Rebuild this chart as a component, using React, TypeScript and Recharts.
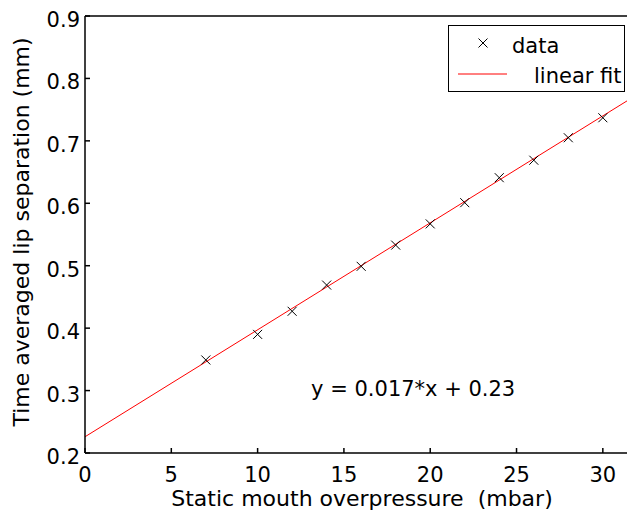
import React from "react";
import {
  ComposedChart,
  XAxis,
  YAxis,
  Scatter,
  Line,
  ReferenceDot,
} from "recharts";

// measured lip separation vs mouth overpressure
const pressure = [7, 10, 12, 14, 16, 18, 20, 22, 24, 26, 28, 30];
const separation = [0.349, 0.39, 0.427, 0.469, 0.499, 0.533, 0.567, 0.601, 0.641, 0.669, 0.705, 0.737];

// end points of the fitted line
const fitX = [0, 31.4];
const fitY = [0.226, 0.764];

const xTicks = [0, 5, 10, 15, 20, 25, 30];
const yTicks = [0.2, 0.3, 0.4, 0.5, 0.6, 0.7, 0.8, 0.9];
const seriesNames = ["data", "linear fit"];
const fitLabel = "y = 0.017*x + 0.23";

const FONT = "'DejaVu Sans', 'Liberation Sans', Arial, sans-serif";
const AXIS = { stroke: "#000", strokeWidth: 1.5 };

const points = pressure.map((x, i) => ({ x, y: separation[i] }));
const fitData = fitX.map((x, i) => ({ x, y: fitY[i] }));

const Cross = (props: any) => {
  const { cx, cy } = props;
  const s = 4.5;
  return (
    <path
      d={`M${cx - s},${cy - s}L${cx + s},${cy + s}M${cx + s},${cy - s}L${cx - s},${cy + s}`}
      stroke="#000"
      strokeWidth={1}
      fill="none"
    />
  );
};

const XTick = ({ x, y, payload }: any) => (
  <text x={x} y={y + 15} textAnchor="middle" fontFamily={FONT} fontSize={21} fill="#000">
    {payload.value}
  </text>
);

const YTick = ({ x, y, payload }: any) => (
  <text x={x} y={y + 11} textAnchor="end" fontFamily={FONT} fontSize={21} fill="#000">
    {Number(payload.value).toFixed(1)}
  </text>
);

const LegendBox = () => (
  <div
    style={{
      position: "absolute",
      left: 448,
      top: 25,
      width: 177,
      height: 67,
      border: "1.5px solid #000",
      boxSizing: "border-box",
      background: "#fff",
    }}
  >
    <svg width={174} height={64} style={{ display: "block" }}>
      <path d="M29.5,12.5L38.5,21.5M38.5,12.5L29.5,21.5" stroke="#000" strokeWidth={1} />
      <text x={63} y={27} fontFamily={FONT} fontSize={21} fill="#000">
        {seriesNames[0]}
      </text>
      <line x1={9} x2={58} y1={48} y2={48} stroke="#ff0000" strokeWidth={1} />
      <text x={85} y={57} fontFamily={FONT} fontSize={21} fill="#000">
        {seriesNames[1]}
      </text>
    </svg>
  </div>
);

export default function App() {
  return (
    <div style={{ position: "absolute", left: 0, top: 0, width: 627, height: 517, background: "#fff" }}>
      <ComposedChart width={627} height={517} margin={{ top: 15, right: 0, bottom: 0, left: 0 }}>
        <XAxis
          xAxisId="bottom"
          dataKey="x"
          type="number"
          domain={[fitX[0], fitX[1]]}
          allowDataOverflow
          ticks={xTicks}
          interval={0}
          height={64}
          tickSize={-5}
          tickMargin={19}
          tick={<XTick />}
          axisLine={AXIS}
          tickLine={AXIS}
          label={{
            content: ({ viewBox }: any) => (
              <text
                x={viewBox.x + viewBox.width / 2 + 6}
                y={viewBox.y + 53}
                textAnchor="middle"
                fontFamily={FONT}
                fontSize={22}
                fill="#000"
                style={{ whiteSpace: "pre" }}
              >
                {"Static mouth overpressure \u00a0(mbar)"}
              </text>
            ),
          }}
        />
        <XAxis
          xAxisId="top"
          orientation="top"
          dataKey="x"
          type="number"
          domain={[fitX[0], fitX[1]]}
          allowDataOverflow
          ticks={xTicks}
          interval={0}
          height={1}
          tickSize={-5}
          tick={false}
          axisLine={AXIS}
          tickLine={AXIS}
        />
        <YAxis
          yAxisId="left"
          type="number"
          domain={[0.2, 0.9]}
          allowDataOverflow
          ticks={yTicks}
          interval={0}
          width={85}
          tickSize={-5}
          tickMargin={10}
          tick={<YTick />}
          axisLine={AXIS}
          tickLine={AXIS}
          label={{
            content: () => (
              <text
                x={29}
                y={232}
                transform="rotate(-90, 29, 232)"
                textAnchor="middle"
                fontFamily={FONT}
                fontSize={22}
                fill="#000"
              >
                Time averaged lip separation (mm)
              </text>
            ),
          }}
        />
        <Line
          xAxisId="bottom"
          yAxisId="left"
          data={fitData}
          dataKey="y"
          name={seriesNames[1]}
          stroke="#ff0000"
          strokeWidth={1}
          dot={false}
          activeDot={false}
          isAnimationActive={false}
        />
        <Scatter
          xAxisId="bottom"
          yAxisId="left"
          data={points}
          dataKey="y"
          name={seriesNames[0]}
          shape={<Cross />}
          isAnimationActive={false}
        />
        <ReferenceDot
          xAxisId="bottom"
          yAxisId="left"
          x={13.1}
          y={0.291}
          r={0}
          fill="none"
          stroke="none"
          label={{
            content: ({ viewBox }: any) => (
              <text x={viewBox.x} y={viewBox.y} fontFamily={FONT} fontSize={21} fill="#000">
                {fitLabel}
              </text>
            ),
          }}
        />
      </ComposedChart>
      <LegendBox />
    </div>
  );
}
